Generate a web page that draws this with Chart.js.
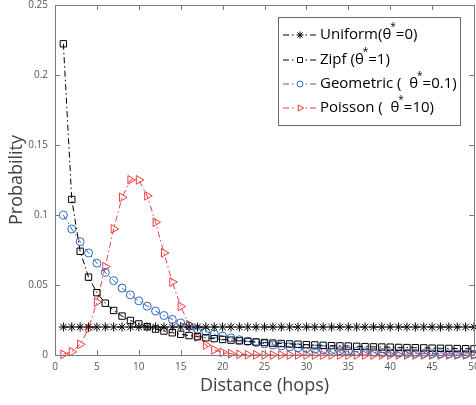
<!DOCTYPE html>
<html>
<head>
<meta charset="utf-8">
<script src="https://cdn.jsdelivr.net/npm/chart.js@4/dist/chart.umd.min.js"></script>
<style>
html,body{margin:0;padding:0;background:#fff;}
#wrap{position:relative;width:476px;height:405px;}
</style>
</head>
<body>
<div id="wrap"><canvas id="c" width="476" height="405"></canvas></div>
<script>
const hops = [1,2,3,4,5,6,7,8,9,10,11,12,13,14,15,16,17,18,19,20,21,22,23,24,25,26,27,28,29,30,31,32,33,34,35,36,37,38,39,40,41,42,43,44,45,46,47,48,49,50];
const uniform = [0.02,0.02,0.02,0.02,0.02,0.02,0.02,0.02,0.02,0.02,0.02,0.02,0.02,0.02,0.02,0.02,0.02,0.02,0.02,0.02,0.02,0.02,0.02,0.02,0.02,0.02,0.02,0.02,0.02,0.02,0.02,0.02,0.02,0.02,0.02,0.02,0.02,0.02,0.02,0.02,0.02,0.02,0.02,0.02,0.02,0.02,0.02,0.02,0.02,0.02];
const zipf = [0.2223,0.1111,0.0741,0.0556,0.0445,0.0370,0.0318,0.0278,0.0247,0.0222,0.0202,0.0185,0.0171,0.0159,0.0148,0.0139,0.0131,0.0123,0.0117,0.0111,0.0106,0.0101,0.0097,0.0093,0.0089,0.0085,0.0082,0.0079,0.0077,0.0074,0.0072,0.0069,0.0067,0.0065,0.0064,0.0062,0.0060,0.0058,0.0057,0.0056,0.0054,0.0053,0.0052,0.0051,0.0049,0.0048,0.0047,0.0046,0.0045,0.0044];
const geometric = [0.1,0.09,0.081,0.0729,0.0656,0.0590,0.0531,0.0478,0.0430,0.0387,0.0349,0.0314,0.0282,0.0254,0.0229,0.0206,0.0185,0.0167,0.0150,0.0135,0.0122,0.0109,0.0098,0.0089,0.0080,0.0072,0.0065,0.0058,0.0052,0.0047,0.0042,0.0038,0.0034,0.0031,0.0028,0.0025,0.0023,0.0020,0.0018,0.0016,0.0015,0.0013,0.0012,0.0011,0.0010,0.0009,0.0008,0.0007,0.0006,0.0006];
const poisson = [0.0005,0.0023,0.0076,0.0189,0.0378,0.0631,0.0901,0.1126,0.1251,0.1251,0.1137,0.0948,0.0729,0.0521,0.0347,0.0217,0.0128,0.0071,0.0037,0.0019,0.0009,0.0004,0.0002,0.0001,0,0,0,0,0,0,0,0,0,0,0,0,0,0,0,0,0,0,0,0,0,0,0,0,0,0];
const xTicks = [0,5,10,15,20,25,30,35,40,45,50];
const yTicks = [0,0.05,0.1,0.15,0.2,0.25];
const yTickLabels = ['0','0.05','0.1','0.15','0.2','0.25'];
const legendParts = [
  ['Uniform(θ','=0)'],
  ['Zipf (θ','=1)'],
  ['Geometric (  θ','=0.1)'],
  ['Poisson (  θ','=10)']
];

const BLUE = '#2f66c2';
const RED = '#f03a3a';
const DASH = [6,3,1.5,3];
const FONT = '"Open Sans", "Noto Sans", sans-serif';

function pts(arr){ return arr.map((v,i)=>({x:hops[i], y:v})); }

const datasets = [
  {label:'Uniform', data:pts(uniform), borderColor:'#000', pointBorderColor:'#000', pointStyle:'star', pointRadius:4.5, legR:3.5, rotation:0},
  {label:'Zipf', data:pts(zipf), borderColor:'#000', pointBorderColor:'#000', pointStyle:'rect', pointRadius:4.5, legR:3.5, rotation:0},
  {label:'Geometric', data:pts(geometric), borderColor:BLUE, pointBorderColor:BLUE, pointStyle:'circle', pointRadius:4, legR:3, rotation:0},
  {label:'Poisson', data:pts(poisson), borderColor:RED, pointBorderColor:RED, pointStyle:'triangle', pointRadius:5, legR:3.5, rotation:90}
].map(d=>Object.assign(d,{borderWidth:1, borderDash:DASH, pointBackgroundColor:'rgba(0,0,0,0)', pointBorderWidth:1, pointRotation:d.rotation, fill:false, tension:0, showLine:true, clip:6}));

const axisPlugin = {
  id:'axisbox',
  afterDatasetsDraw(chart){
    const {ctx, chartArea:a, scales:{x,y}} = chart;
    ctx.save();
    ctx.strokeStyle = '#7a7a7a';
    ctx.lineWidth = 1;
    ctx.setLineDash([]);
    ctx.beginPath();
    ctx.rect(Math.round(a.left)+0.5, Math.round(a.top)+0.5, Math.round(a.right-a.left), Math.round(a.bottom-a.top));
    ctx.stroke();
    const tl = 5;
    ctx.beginPath();
    xTicks.forEach(t=>{
      const px = Math.round(x.getPixelForValue(t))+0.5;
      ctx.moveTo(px, a.bottom); ctx.lineTo(px, a.bottom-tl);
      ctx.moveTo(px, a.top); ctx.lineTo(px, a.top+tl);
    });
    yTicks.forEach(t=>{
      const py = Math.round(y.getPixelForValue(t))+0.5;
      ctx.moveTo(a.left, py); ctx.lineTo(a.left+tl, py);
      ctx.moveTo(a.right, py); ctx.lineTo(a.right-tl, py);
    });
    ctx.stroke();

    // legend
    const lx = 278.5, ly = 17.5, lw = 182, lh = 108;
    ctx.fillStyle = '#fff';
    ctx.fillRect(lx, ly, lw, lh);
    ctx.strokeStyle = '#6a6a6a';
    ctx.strokeRect(lx, ly, lw, lh);
    const rows = [35, 60, 84, 108];
    chart.data.datasets.forEach((d,i)=>{
      const ry = rows[i];
      ctx.save();
      ctx.strokeStyle = d.borderColor;
      ctx.lineWidth = 1;
      ctx.setLineDash(DASH);
      ctx.beginPath(); ctx.moveTo(283, ry); ctx.lineTo(318, ry); ctx.stroke();
      ctx.setLineDash([]);
      ctx.fillStyle = '#fff';
      ctx.fillRect(295, ry-4, 10, 8);
      ctx.strokeStyle = d.pointBorderColor;
      ctx.fillStyle = 'rgba(0,0,0,0)';
      Chart.helpers.drawPoint(ctx, {pointStyle:d.pointStyle, radius:d.legR, rotation:d.rotation, borderWidth:1}, 300, ry);
      ctx.restore();
      ctx.fillStyle = '#000';
      ctx.textBaseline = 'middle';
      ctx.textAlign = 'left';
      ctx.font = '15px ' + FONT;
      let tx = 320;
      const p = legendParts[i];
      ctx.fillText(p[0], tx, ry);
      tx += ctx.measureText(p[0]).width;
      ctx.font = '10px ' + FONT;
      ctx.fillText('*', tx - 1, ry - 8);
      tx += ctx.measureText('*').width - 1;
      ctx.font = '15px ' + FONT;
      ctx.fillText(p[1], tx, ry);
    });
    ctx.restore();
  }
};

new Chart(document.getElementById('c'), {
  type:'line',
  data:{datasets},
  options:{
    responsive:false,
    animation:false,
    layout:{autoPadding:false, padding:{left:0, top:5, right:2, bottom:0}},
    plugins:{legend:{display:false}, tooltip:{enabled:false}},
    scales:{
      x:{
        type:'linear', min:0, max:50,
        afterBuildTicks(s){ s.ticks = xTicks.map(v=>({value:v})); },
        afterFit(s){ s.height = 50; s.paddingLeft = 0; s.paddingRight = 0; },
        grid:{display:false, drawTicks:false},
        border:{display:false},
        ticks:{padding:6, color:'#555', font:{size:10, family:FONT}, maxRotation:0, autoSkip:false},
        title:{display:true, text:'Distance (hops)', color:'#404040', font:{size:18, family:FONT}, padding:{top:0, bottom:8}}
      },
      y:{
        type:'linear', min:0, max:0.25,
        afterBuildTicks(s){ s.ticks = yTicks.map(v=>({value:v})); },
        afterFit(s){ s.width = 55; s.paddingTop = 0; s.paddingBottom = 0; },
        grid:{display:false, drawTicks:false},
        border:{display:false},
        ticks:{padding:7, color:'#555', font:{size:10, family:FONT}, autoSkip:false,
          callback:(v,i)=>yTickLabels[i]},
        title:{display:true, text:'Probability', color:'#404040', font:{size:18, family:FONT}, padding:{top:6, bottom:0}}
      }
    }
  },
  plugins:[axisPlugin]
});
</script>
</body>
</html>
